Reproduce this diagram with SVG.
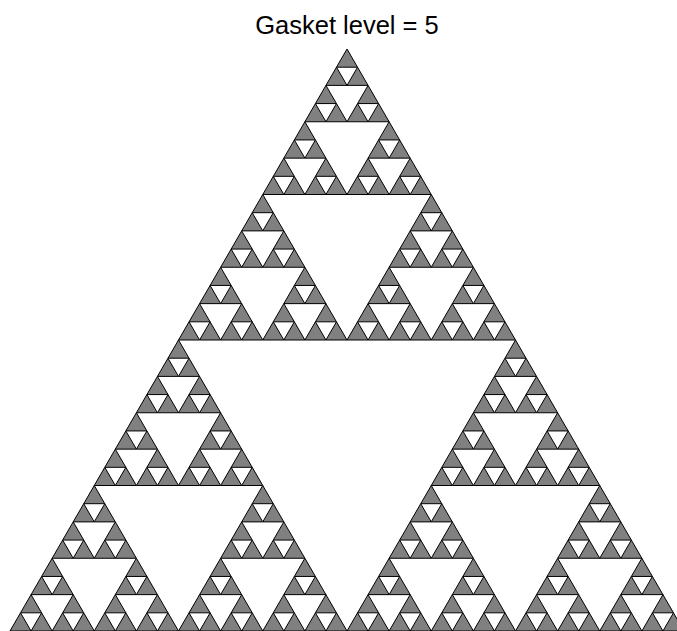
<svg xmlns="http://www.w3.org/2000/svg" xmlns:xlink="http://www.w3.org/1999/xlink" width="677" height="631" viewBox="0 0 677 631">
<style>
.t{fill:#808080;stroke:#000;stroke-width:1;stroke-linejoin:miter}
.title{font-family:"Liberation Sans",Arial,sans-serif;font-size:25.5px;fill:#000}
</style>
<defs>
<polygon id="g0" class="t" points="0,0 -10.53125,18.1875 10.53125,18.1875"/>
<g id="g1"><use href="#g0"/><use href="#g0" x="-10.53125" y="18.1875"/><use href="#g0" x="10.53125" y="18.1875"/></g>
<g id="g2"><use href="#g1"/><use href="#g1" x="-21.0625" y="36.375"/><use href="#g1" x="21.0625" y="36.375"/></g>
<g id="g3"><use href="#g2"/><use href="#g2" x="-42.125" y="72.75"/><use href="#g2" x="42.125" y="72.75"/></g>
<g id="g4"><use href="#g3"/><use href="#g3" x="-84.25" y="145.5"/><use href="#g3" x="84.25" y="145.5"/></g>
<g id="g5"><use href="#g4"/><use href="#g4" x="-168.5" y="291"/><use href="#g4" x="168.5" y="291"/></g>
</defs>
<rect width="677" height="631" fill="#fff"/>
<text class="title" x="347" y="33.5" text-anchor="middle">Gasket level = 5</text>
<g id="gasket" transform="translate(347,49)"><use href="#g5"/></g>
</svg>
